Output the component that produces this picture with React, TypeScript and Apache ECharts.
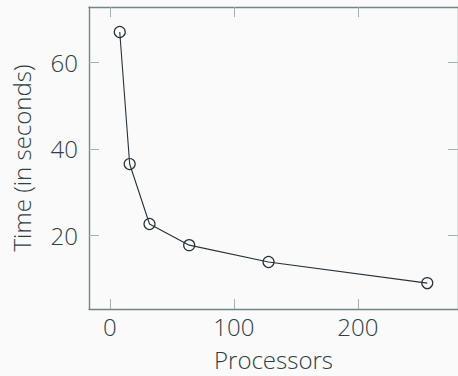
import React, { useEffect, useRef } from "react";
import * as echarts from "echarts";

const processors = [8, 16, 32, 64, 128, 256];
const timeSeconds = [67.1, 36.5, 22.6, 17.7, 13.8, 8.9];
const xTicks = [0, 100, 200];
const yTicks = [20, 40, 60];
const xRange = [-16.8, 280.8];
const yRange = [2.9, 72.9];

const FONT = "'Open Sans', 'Noto Sans', sans-serif";
const WEIGHT = 300;
const TEXT = "#2f3f45";
const AXIS = "#718589";
const TICK = "#a3b0b4";
const BG = "#fafafa";

export default function App() {
  const ref = useRef<HTMLDivElement>(null);
  useEffect(() => {
    if (!ref.current) return;
    const chart = echarts.init(ref.current, undefined, { renderer: "svg" });
    const tickCommon = {
      inside: true,
      length: 10,
      lineStyle: { color: TICK, width: 1 },
    };
    const lineCommon = { show: true, lineStyle: { color: AXIS, width: 1.4 } };
    const text = { color: TEXT, fontSize: 24, fontFamily: FONT, fontWeight: WEIGHT };
    chart.setOption({
      animation: false,
      backgroundColor: BG,
      textStyle: { fontFamily: FONT },
      grid: { left: 89, top: 7, width: 371, height: 303, containLabel: false },
      xAxis: [
        {
          type: "value",
          position: "bottom",
          min: xRange[0],
          max: xRange[1],
          axisLine: { ...lineCommon, onZero: false },
          axisTick: { ...tickCommon, customValues: xTicks },
          axisLabel: { ...text, customValues: xTicks, margin: 5 },
          splitLine: { show: false },
          name: "Processors",
          nameLocation: "middle",
          nameGap: 38,
          nameTextStyle: { ...text },
        },
        {
          type: "value",
          position: "top",
          min: xRange[0],
          max: xRange[1],
          axisLine: { ...lineCommon, onZero: false },
          axisTick: { ...tickCommon, customValues: xTicks },
          axisLabel: { show: false },
          splitLine: { show: false },
        },
      ],
      yAxis: [
        {
          type: "value",
          position: "left",
          min: yRange[0],
          max: yRange[1],
          axisLine: { ...lineCommon, onZero: false },
          axisTick: { ...tickCommon, customValues: yTicks },
          axisLabel: { ...text, customValues: yTicks, margin: 11 },
          splitLine: { show: false },
          name: "Time (in seconds)",
          nameLocation: "middle",
          nameGap: 56,
          nameTextStyle: { ...text },
        },
        {
          type: "value",
          position: "right",
          min: yRange[0],
          max: yRange[1],
          axisLine: { ...lineCommon, onZero: false },
          axisTick: { ...tickCommon, customValues: yTicks },
          axisLabel: { show: false },
          splitLine: { show: false },
        },
      ],
      series: [
        {
          type: "line",
          xAxisIndex: 0,
          yAxisIndex: 0,
          data: processors.map((p, i) => [p, timeSeconds[i]]),
          symbol: "circle",
          symbolSize: 11,
          lineStyle: { color: "#263238", width: 1.1 },
          itemStyle: { color: "rgba(0,0,0,0)", borderColor: "#263238", borderWidth: 1.2 },
        },
      ],
    });
    return () => chart.dispose();
  }, []);
  return (
    <div
      ref={ref}
      style={{ position: "fixed", left: 0, top: 0, width: 458, height: 376, background: BG }}
    />
  );
}
